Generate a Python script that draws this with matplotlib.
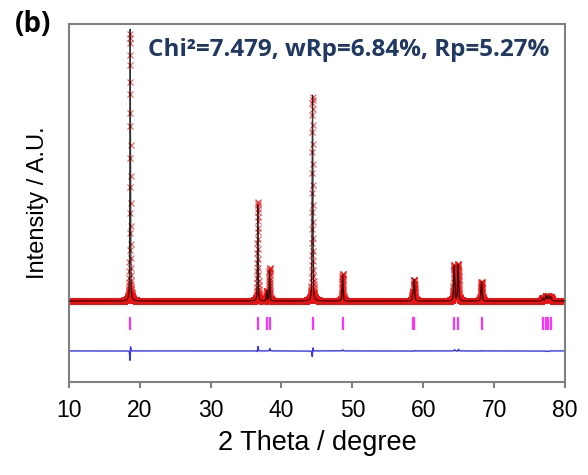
import numpy as np
import matplotlib
matplotlib.use("Agg")
import matplotlib.pyplot as plt

# peak tables: position (2theta), height (a.u.), fwhm
calc_pos = [18.66, 36.66, 37.92, 38.32, 44.38, 48.62, 58.52, 58.72, 64.36, 64.92, 68.22, 76.85, 77.30, 77.65, 78.00]
calc_height = [272, 96, 10, 31, 206, 26, 6, 21, 35, 36, 19, 3, 5, 5, 4]
calc_fwhm = [0.11, 0.12, 0.12, 0.13, 0.13, 0.15, 0.17, 0.17, 0.18, 0.18, 0.19, 0.22, 0.22, 0.22, 0.22]

obs_pos = [18.662, 36.662, 37.92, 38.322, 44.382, 48.621, 58.52, 58.722, 64.362, 64.923, 68.222, 76.85, 77.30, 77.65, 78.00]
obs_height = [268, 99, 10, 33, 204, 27, 6, 21, 36, 37, 19, 3, 4.5, 4.5, 4]

bragg_pos = [18.66, 36.66, 37.92, 38.32, 44.38, 48.62, 58.52, 58.72, 64.36, 64.92, 68.22, 76.85, 77.30, 77.65, 78.00]

background = 0.0
bragg_y = (-16, -29)
diff_offset = -50

chi_text = "Chi\u00b2=7.479, wRp=6.84%, Rp=5.27%"


def profile(x, pos, height, fwhm):
    """pseudo-voigt sum of the peak table"""
    y = np.full_like(x, background)
    for p, h, w in zip(pos, height, fwhm):
        g = np.exp(-4 * np.log(2) * ((x - p) / w) ** 2)
        l = 1 / (1 + 4 * ((x - p) / w) ** 2)
        y += h * (0.6 * g + 0.4 * l)
    return y


two_theta = np.arange(10.0, 80.0, 0.01)
y_calc = profile(two_theta, calc_pos, calc_height, calc_fwhm)
y_obs = profile(two_theta, obs_pos, obs_height, calc_fwhm)
y_diff = y_obs - y_calc + diff_offset

fig = plt.figure(figsize=(5.88, 4.75), dpi=100)
ax = fig.add_axes([0.117, 0.196, 0.844, 0.753])

ax.plot(two_theta, y_obs, linestyle="none", marker="x", markersize=5,
        markeredgewidth=0.8, color="#ee1111", alpha=0.7, zorder=2)
ax.plot(two_theta, y_calc, color="black", lw=0.9, alpha=0.8, zorder=3)
ax.vlines(bragg_pos, bragg_y[0], bragg_y[1], color="#ff33ff", lw=1.6, zorder=2)
ax.plot(two_theta, y_diff, color="#3333ff", lw=1.0, zorder=2)

ax.set_xlim(10, 80)
ax.set_ylim(-81, 277)
ax.set_xticks(np.arange(10, 81, 10))
ax.set_yticks([])
for s in ax.spines.values():
    s.set_color("#808080")
    s.set_linewidth(1.5)
ax.tick_params(axis="x", direction="out", length=4, width=1.5, color="#808080",
               labelsize=16.5, pad=8)
for t in ax.get_xticklabels():
    t.set_family("Liberation Sans")
ax.set_xlabel("2 Theta / degree", fontsize=19.5, family="Liberation Sans", labelpad=6)
ax.set_ylabel("Intensity / A.U.", fontsize=17, family="Liberation Sans", labelpad=14)

ax.text(0.16, 0.927, chi_text, transform=ax.transAxes, fontsize=17.5,
        family="Open Sans", fontweight="bold", color="#203864", va="center")
fig.text(0.025, 0.948, "(b)", fontsize=20, family="Open Sans", fontweight="bold",
         va="center")

fig.savefig("out.png", dpi=100)
